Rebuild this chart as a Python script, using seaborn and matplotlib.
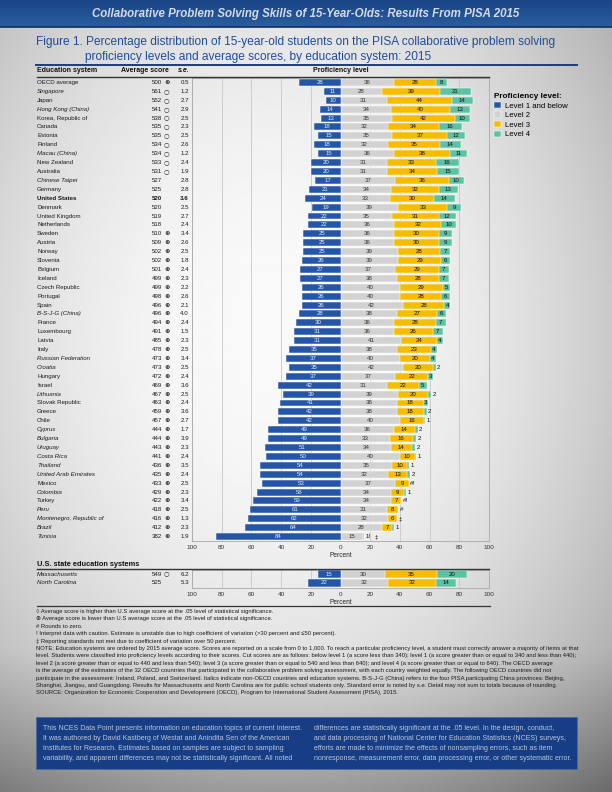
import numpy as np
import pandas as pd
import matplotlib
matplotlib.use("Agg")
import matplotlib.pyplot as plt
import matplotlib.transforms as mtransforms
from matplotlib.lines import Line2D
from matplotlib.patches import Rectangle
from matplotlib.colors import LinearSegmentedColormap
from matplotlib.ticker import FuncFormatter
import seaborn as sns

plt.rcParams['font.family'] = ['Liberation Sans', 'DejaVu Sans']

# ---- data ----
systems = ["OECD average", "Singapore", "Japan", "Hong Kong (China)", "Korea, Republic of",
           "Canada", "Estonia", "Finland", "Macau (China)", "New Zealand", "Australia",
           "Chinese Taipei", "Germany", "United States", "Denmark", "United Kingdom",
           "Netherlands", "Sweden", "Austria", "Norway", "Slovenia", "Belgium", "Iceland",
           "Czech Republic", "Portugal", "Spain", "B-S-J-G (China)", "France", "Luxembourg",
           "Latvia", "Italy", "Russian Federation", "Croatia", "Hungary", "Israel",
           "Lithuania", "Slovak Republic", "Greece", "Chile", "Cyprus", "Bulgaria",
           "Uruguay", "Costa Rica", "Thailand", "United Arab Emirates", "Mexico",
           "Colombia", "Turkey", "Peru", "Montenegro, Republic of", "Brazil", "Tunisia"]
avg_score = [500, 561, 552, 541, 538, 535, 535, 534, 534, 533, 531, 527, 525, 520, 520, 519,
             518, 510, 509, 502, 502, 501, 499, 499, 498, 496, 496, 494, 491, 485, 478, 473,
             473, 472, 469, 467, 463, 459, 457, 444, 444, 443, 441, 436, 435, 433, 429, 422,
             418, 416, 412, 382]
sig = ["L", "H", "H", "H", "H", "H", "H", "H", "H", "H", "H", "", "", "", "", "", "",
       "L", "L", "L", "L", "L", "L", "L", "L", "L", "L", "L", "L", "L", "L", "L", "L",
       "L", "L", "L", "L", "L", "L", "L", "L", "L", "L", "L", "L", "L", "L", "L", "L",
       "L", "L", "L"]
std_err = ["0.5", "1.2", "2.7", "2.9", "2.5", "2.3", "2.5", "2.6", "1.2", "2.4", "1.9", "2.8",
           "2.8", "3.6", "2.5", "2.7", "2.4", "3.4", "2.6", "2.5", "1.8", "2.4", "2.3", "2.2",
           "2.6", "2.1", "4.0", "2.4", "1.5", "2.3", "2.5", "3.4", "2.5", "2.4", "3.6", "2.5",
           "2.4", "3.6", "2.7", "1.7", "3.9", "2.3", "2.4", "3.5", "2.4", "2.5", "2.3", "3.4",
           "2.5", "1.3", "2.3", "1.9"]
non_oecd = ["Singapore", "Hong Kong (China)", "Macau (China)", "Chinese Taipei",
            "B-S-J-G (China)", "Russian Federation", "Croatia", "Lithuania", "Cyprus",
            "Bulgaria", "Uruguay", "Costa Rica", "Thailand", "United Arab Emirates",
            "Colombia", "Peru", "Montenegro, Republic of", "Brazil", "Tunisia",
            "Massachusetts", "North Carolina"]

level1 = [28, 11, 10, 14, 13, 18, 15, 18, 15, 20, 20, 17, 21, 24, 19, 22, 22, 25, 25, 25,
          26, 27, 27, 26, 26, 26, 28, 30, 31, 31, 35, 37, 35, 37, 42, 39, 41, 42, 42, 49,
          49, 51, 50, 54, 54, 53, 56, 59, 61, 62, 64, 84]
level2 = [36, 28, 31, 34, 35, 32, 35, 32, 36, 31, 31, 37, 34, 33, 39, 35, 36, 36, 36, 39,
          39, 37, 38, 40, 40, 42, 38, 36, 36, 41, 38, 40, 42, 37, 31, 39, 38, 38, 40, 36,
          33, 34, 40, 35, 32, 37, 34, 34, 31, 32, 28, 15]
level3 = [28, 39, 44, 40, 42, 34, 37, 35, 38, 33, 34, 36, 32, 30, 33, 31, 32, 30, 30, 28,
          29, 29, 28, 29, 28, 28, 27, 28, 26, 24, 23, 20, 20, 22, 22, 20, 18, 18, 16, 14,
          16, 14, 10, 10, 13, 9, 9, 7, 8, 6, 7, 1]
level4 = [8, 21, 14, 13, 10, 16, 12, 14, 11, 16, 15, 10, 13, 14, 9, 12, 10, 9, 9, 7,
          6, 7, 7, 5, 6, 4, 6, 7, 7, 4, 4, 4, 2, 3, 5, 2, 3, 2, 1, 2,
          2, 2, 1, 1, 2, 0, 1, 0, 0, 0, 1, 0]
level3_lbl = {"Tunisia": "1!"}
level4_lbl = {"Mexico": "#!", "Turkey": "#!", "Peru": "#", "Montenegro, Republic of": "\u2021",
              "Tunisia": "\u2021"}

states = ["Massachusetts", "North Carolina"]
state_score = [549, 525]
state_sig = ["H", ""]
state_se = ["6.2", "5.3"]
state_l1 = [15, 22]
state_l2 = [30, 32]
state_l3 = [35, 32]
state_l4 = [20, 14]

level_names = ["Level 1 and below", "Level 2", "Level 3", "Level 4"]
level_colors = ["#2455A6", "#D2D2D2", "#F6BD00", "#5DC1A3"]

notes = [
    "\u25cb Average score is higher than U.S average score at the .05 level of statistical significance.",
    "\u2295 Average score is lower than U.S average score at the .05 level of statistical significance.",
    "# Rounds to zero.",
    "! Interpret data with caution. Estimate is unstable due to high coefficient of variation (>30 percent and \u226450 percent).",
    "\u2021 Reporting standards not met due to coefficient of variation over 50 percent.",
    "NOTE: Education systems are ordered by 2015 average score. Scores are reported on a scale from 0 to 1,000. To reach a particular proficiency level, a student must correctly answer a majority of items at that",
    "level. Students were classified into proficiency levels according to their scores. Cut scores are as follows: below level 1 (a score less than 340); level 1 (a score greater than or equal to 340 and less than 440);",
    "level 2 (a score greater than or equal to 440 and less than 540); level 3 (a score greater than or equal to 540 and less than 640); and level 4 (a score greater than or equal to 640). The OECD average",
    "is the average of the estimates of the 32 OECD countries that participated in the collaborative problem solving assessment, with each country weighted equally. The following OECD countries did not",
    "participate in the assessment: Ireland, Poland, and Switzerland. Italics indicate non-OECD countries and education systems. B-S-J-G (China) refers to the four PISA participating China provinces: Beijing,",
    "Shanghai, Jiangsu, and Guangdong. Results for Massachusetts and North Carolina are for public school students only. Standard error is noted by s.e. Detail may not sum to totals because of rounding.",
    "SOURCE: Organization for Economic Cooperation and Development (OECD), Program for International Student Assessment (PISA), 2015.",
]
box_left = ["This NCES Data Point presents information on education topics of current interest.",
            "It was authored by David Kastberg of Westat and Anindita Sen of the American",
            "Institutes for Research. Estimates based on samples are subject to sampling",
            "variability, and apparent differences may not be statistically significant. All noted"]
box_right = ["differences are statistically significant at the .05 level. In the design, conduct,",
             "and data processing of National Center for Education Statistics (NCES) surveys,",
             "efforts are made to minimize the effects of nonsampling errors, such as item",
             "nonresponse, measurement error, data processing error, or other systematic error."]

W, H = 612, 792


def fx(px):
    return px / W


def fy(py):
    return 1 - py / H


fig = plt.figure(figsize=(6.12, 7.92), dpi=100)

# background shading
bg = fig.add_axes([0, 0, 1, 1], zorder=-10)
yy, xx = np.mgrid[0:1:400j, 0:1:306j]
r2 = ((xx - 0.45) / 0.62) ** 2 + ((yy - 0.42) / 0.65) ** 2
shade = 0.98 - 0.24 * r2 - 0.18 * np.clip((yy - 0.82) / 0.18, 0, 1)
bg.imshow(shade, cmap="gray", vmin=0, vmax=1, aspect="auto", extent=[0, 1, 0, 1])
bg.axis("off")

# top banner
ban = fig.add_axes([0, fy(27), 1, 27 / H], zorder=-5)
ban.imshow(np.linspace(0, 1, 40)[:, None],
           cmap=LinearSegmentedColormap.from_list("ban", ["#1A4685", "#2A5DA0"]),
           aspect="auto", extent=[0, 1, 0, 1])
ban.axis("off")
fig.add_artist(Line2D([0, 1], [fy(27), fy(27)], color="#0F2E5C", lw=1.2))
fig.text(0.5, fy(14), "Collaborative Problem Solving Skills of 15-Year-Olds: Results From PISA 2015",
         ha="center", va="center", color="#D6DAE3", fontsize=8.3, fontweight="bold",
         fontstyle="italic")

title_c = "#1F4E9B"
fig.text(fx(36), fy(42), "Figure 1. Percentage distribution of 15-year-old students on the PISA "
         "collaborative problem solving", ha="left", va="center", color=title_c, fontsize=8.6)
fig.text(fx(85), fy(57), "proficiency levels and average scores, by education system: 2015",
         ha="left", va="center", color=title_c, fontsize=8.6)
fig.add_artist(Line2D([fx(36), fx(577)], [fy(65), fy(65)], color="#1E3C7A", lw=1.4))

hdr = dict(va="center", fontsize=5.0, fontweight="bold", color="#111111")
fig.text(fx(37), fy(71), "Education system", ha="left", **hdr)
fig.text(fx(121), fy(71), "Average score", ha="left", **hdr)
fig.text(fx(178), fy(71), "s.e.", ha="left", fontstyle="italic", **hdr)
fig.text(fx(313), fy(71), "Proficiency level", ha="left", **hdr)
fig.add_artist(Line2D([fx(37), fx(489)], [fy(77), fy(77)], color="#333333", lw=1.0))

marker = {"H": "\u25cb", "L": "\u2295", "": ""}


def draw_panel(ax, names, scores, sigs, ses, l1, l2, l3, l4, lbl3, lbl4, with_legend):
    df = pd.DataFrame({"system": names, "l1": l1, "l2": l2, "l3": l3, "l4": l4})
    df["neg"] = -df["l1"]
    df["c2"] = df["l2"]
    df["c3"] = df["l2"] + df["l3"]
    df["c4"] = df["l2"] + df["l3"] + df["l4"]
    ax.set_facecolor("none")
    for col, color, name in [("c4", level_colors[3], level_names[3]),
                             ("c3", level_colors[2], level_names[2]),
                             ("c2", level_colors[1], level_names[1]),
                             ("neg", level_colors[0], level_names[0])]:
        sns.barplot(data=df, x=col, y="system", orient="h", color=color, width=0.78,
                    errorbar=None, edgecolor="white", linewidth=0.35, label=name,
                    saturation=1, ax=ax, zorder=3)
    n = len(df)
    ax.set_xlim(-100, 100)
    ax.set_ylim(n - 0.5, -0.5)
    ax.set_xticks(np.arange(-100, 101, 20))
    ax.xaxis.set_major_formatter(FuncFormatter(lambda v, p: f"{abs(v):.0f}"))
    ax.xaxis.grid(True, color="#C6C6C6", lw=0.6)
    ax.set_axisbelow(True)
    ax.set_yticks([])
    ax.set_ylabel("")
    ax.set_xlabel("Percent", fontsize=4.7, labelpad=1.5, color="#222222")
    ax.tick_params(axis="x", length=0, labelsize=4.6, pad=3, colors="#333333")
    for s in ax.spines.values():
        s.set_color("#A8A8A8")
        s.set_linewidth(0.6)

    fs = 4.4
    for i, r in df.iterrows():
        ax.text(-r.l1 / 2, i, str(r.l1), color="#E4EAF6", ha="center", va="center", fontsize=fs, zorder=5)
        ax.text(r.l2 / 2, i, str(r.l2), color="#333333", ha="center", va="center", fontsize=fs, zorder=5)
        x_out = r.c4 + 1
        t3 = lbl3.get(r.system, str(r.l3))
        if r.l3 >= 3:
            ax.text(r.l2 + r.l3 / 2, i, t3, color="#111111", ha="center", va="center", fontsize=fs, zorder=5)
        else:
            ax.text(r.c3 + 1, i, t3, color="#111111", ha="left", va="center", fontsize=fs, zorder=5)
            x_out = r.c3 + 7
        t4 = lbl4.get(r.system, str(r.l4))
        if r.l4 >= 3:
            ax.text(r.c3 + r.l4 / 2, i, t4, color="#111111", ha="center", va="center", fontsize=fs, zorder=5)
        else:
            ax.text(x_out, i, t4, color="#111111", ha="left", va="center", fontsize=fs, zorder=5)

    trans = mtransforms.blended_transform_factory(fig.transFigure, ax.transData)
    for i, name in enumerate(names):
        style = "italic" if name in non_oecd else "normal"
        weight = "bold" if name == "United States" else "normal"
        kw = dict(transform=trans, va="center", fontsize=4.4, color="#1A1A1A",
                  fontweight=weight)
        ax.text(fx(37), i, name, ha="left", fontstyle=style, **kw)
        ax.text(fx(162), i, str(scores[i]), ha="right", **kw)
        ax.text(fx(189), i, ses[i], ha="right", **kw)
        ax.text(fx(164), i, marker[sigs[i]], ha="left", transform=trans, va="center",
                fontsize=4.6, color="#1A1A1A", fontweight="bold", family="DejaVu Sans")

    if with_legend:
        handles, labels = ax.get_legend_handles_labels()
        order = [labels.index(nm) for nm in level_names]
        ax.legend([handles[k] for k in order], level_names, loc="upper left",
                  bbox_to_anchor=(fx(494), fy(93)), bbox_transform=fig.transFigure,
                  frameon=False, fontsize=5.6, title="Proficiency level:",
                  title_fontproperties={"weight": "bold", "size": 5.9},
                  alignment="left", handlelength=0.9, handleheight=0.9,
                  handletextpad=0.5, labelspacing=0.22, borderpad=0, borderaxespad=0)
    elif ax.get_legend() is not None:
        ax.get_legend().remove()


ax1 = fig.add_axes([fx(192), fy(541), fx(489) - fx(192), (541 - 78) / H])
draw_panel(ax1, systems, avg_score, sig, std_err, level1, level2, level3, level4,
           level3_lbl, level4_lbl, True)

fig.text(fx(37), fy(564), "U.S. state education systems", ha="left", va="center",
         fontsize=5.3, fontweight="bold", color="#111111")
fig.add_artist(Line2D([fx(37), fx(489)], [fy(568.5), fy(568.5)], color="#333333", lw=1.0))
ax2 = fig.add_axes([fx(192), fy(587.5), fx(489) - fx(192), 18 / H])
draw_panel(ax2, states, state_score, state_sig, state_se, state_l1, state_l2, state_l3,
           state_l4, {}, {}, False)
fig.add_artist(Line2D([fx(37), fx(490)], [fy(606), fy(606)], color="#333333", lw=0.9))

# notes
for k, line in enumerate(notes):
    fig.text(fx(36), fy(611.5 + k * 7.4), line, ha="left", va="center", fontsize=4.2,
             color="#1A1A1A")

# bottom box
fig.add_artist(Rectangle((fx(36), fy(769)), fx(577) - fx(36), (769 - 717) / H,
                         transform=fig.transFigure, facecolor="#173E84",
                         edgecolor="#4A67A0", lw=0.6))
for k, (a, b) in enumerate(zip(box_left, box_right)):
    yv = fy(728 + k * 10.3)
    fig.text(fx(43), yv, a, ha="left", va="center", fontsize=5.0, color="#BDC7DC")
    fig.text(fx(314), yv, b, ha="left", va="center", fontsize=5.0, color="#BDC7DC")

fig.savefig("out.png", dpi=100)
